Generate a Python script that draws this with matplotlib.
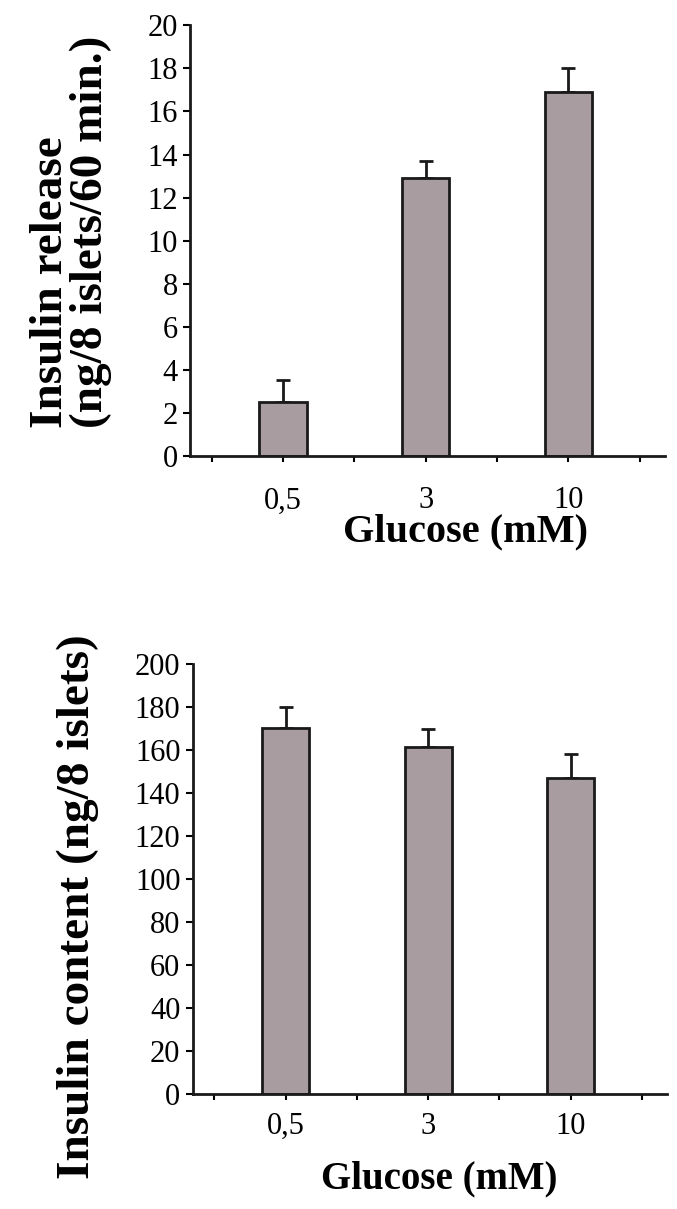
import numpy as np
import matplotlib
matplotlib.use("Agg")
from matplotlib import pyplot as plt

# data
glucose = ["0,5", "3", "10"]
release_mean = [2.5, 12.9, 16.9]
release_err = [1.0, 0.8, 1.1]
content_mean = [170, 161.5, 147]
content_err = [10, 8, 11]

bar_color = "#a89ca0"
plt.rcParams['font.family'] = ['Liberation Serif', 'DejaVu Serif']

fig = plt.figure(figsize=(6.77, 12.09), dpi=100)

# bars sit on every second slot (1, 3, 5), small ticks on all slots 0..6
xpos = np.arange(len(glucose)) * 2 + 1


def draw_panel(ax, means, errs, ymax, ystep, ylabel, lab_xy, xpad):
    ax.bar(xpos, means, width=0.66, color=bar_color, edgecolor="#1a1a1a",
           linewidth=2, zorder=2)
    ax.errorbar(xpos, means, yerr=[np.zeros(len(errs)), errs], fmt="none",
                ecolor="#1a1a1a", elinewidth=2, capsize=5, capthick=2, zorder=1)
    ax.set_xlim(-0.3, 6.35)
    ax.set_ylim(0, ymax)
    ax.set_yticks(np.arange(0, ymax + 1, ystep))
    ax.tick_params(axis="y", labelsize=22, length=5, width=1.5, pad=4)
    ax.set_xticks(xpos)
    ax.set_xticklabels(glucose)
    ax.set_xticks(np.arange(0, 7), minor=True)
    ax.tick_params(axis="x", which="major", labelsize=22, length=4, width=1.5, pad=xpad)
    ax.tick_params(axis="x", which="minor", length=4, width=1.5)
    for s in ["top", "right"]:
        ax.spines[s].set_visible(False)
    for s in ["left", "bottom"]:
        ax.spines[s].set_linewidth(2)
        ax.spines[s].set_color("#1a1a1a")
    fig.text(lab_xy[0], lab_xy[1], ylabel, rotation=90, ha="center", va="center",
             fontsize=34, fontweight="bold", linespacing=0.95,
             multialignment="left")


ax1 = fig.add_axes([0.281, 0.623, 0.701, 0.356])
draw_panel(ax1, release_mean, release_err, 20, 2,
           "Insulin release\n(ng/8 islets/60 min.)", (0.105, 0.808), 18)
ax1.set_xlabel("Glucose (mM)", fontsize=29, fontweight="bold", labelpad=0)
ax1.xaxis.set_label_coords(0.58, -0.135)

ax2 = fig.add_axes([0.285, 0.095, 0.700, 0.356])
draw_panel(ax2, content_mean, content_err, 200, 20,
           "Insulin content (ng/8 islets)", (0.115, 0.25), 9)
ax2.set_xlabel("Glucose (mM)", fontsize=28, fontweight="bold", labelpad=0)
ax2.xaxis.set_label_coords(0.52, -0.155)

fig.savefig("out.png", dpi=100)
